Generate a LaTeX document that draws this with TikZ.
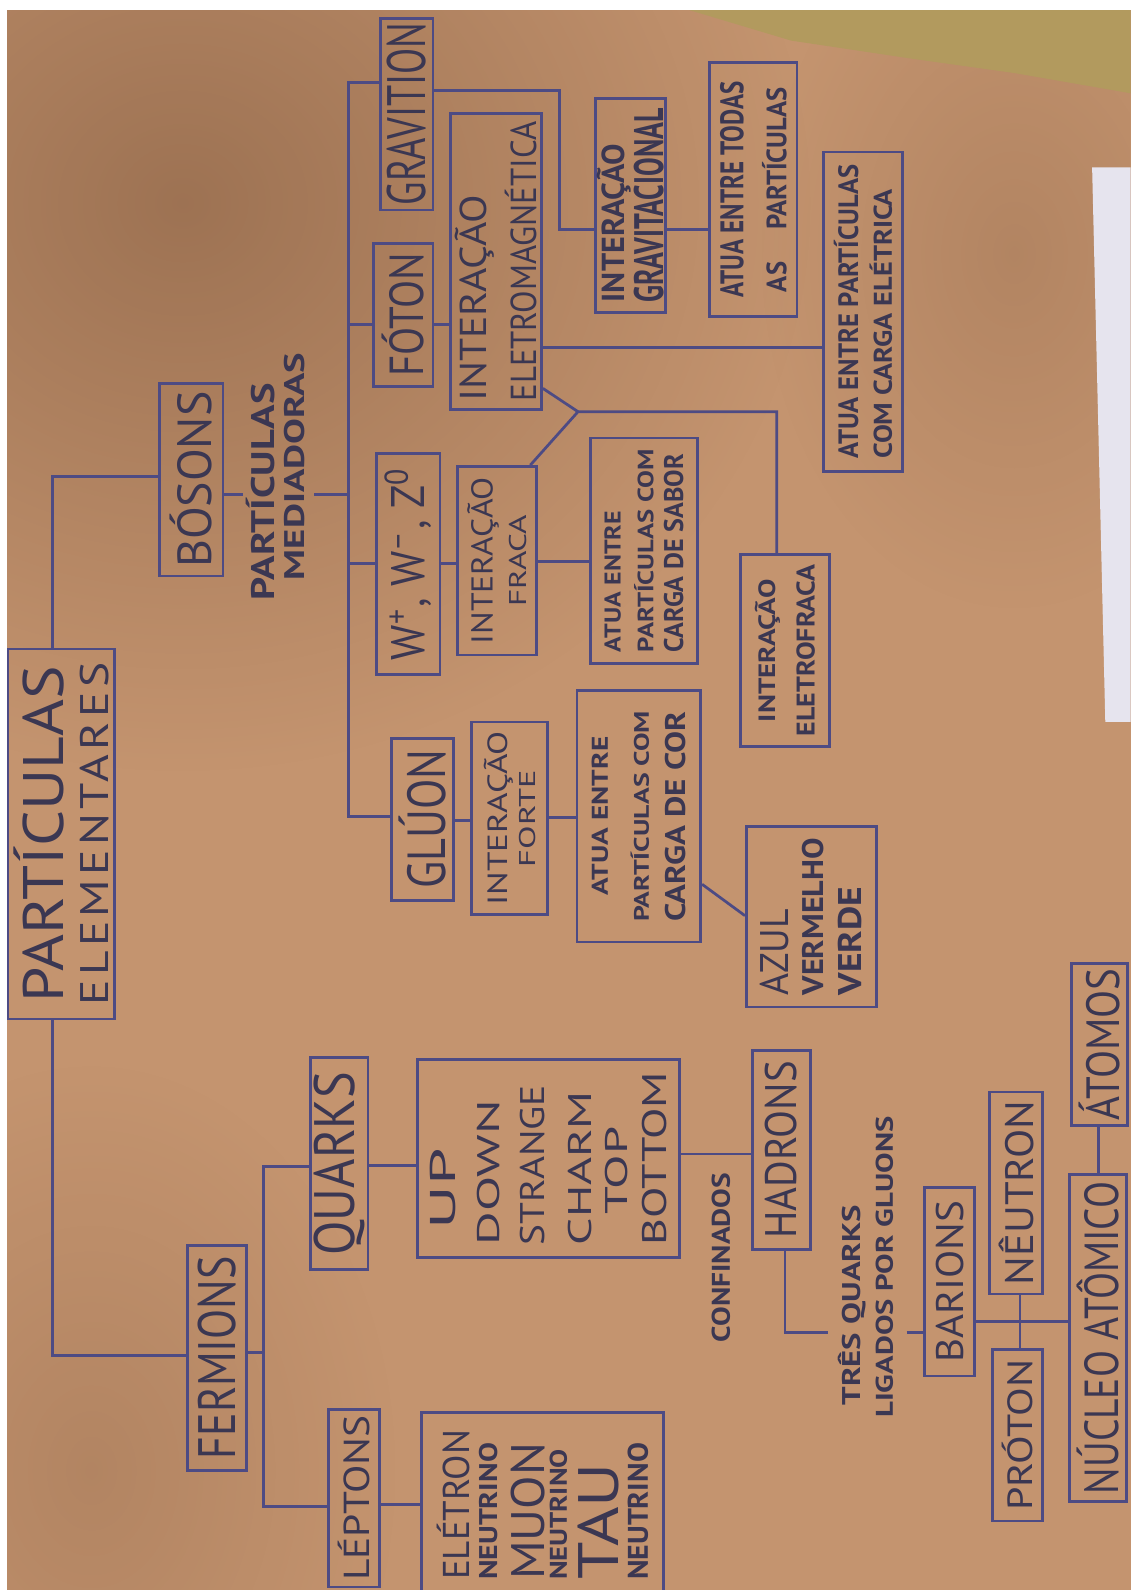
\documentclass[tikz,border=0pt]{standalone}
\usepackage{fontspec}
\setmainfont{PT Sans}
\usepackage{graphicx}
\usetikzlibrary{fadings}

\definecolor{paper}{HTML}{C4946F}
\definecolor{paperdk}{HTML}{7E573C}
\definecolor{wall}{HTML}{B29A5E}
\definecolor{sheet}{HTML}{E6E4EE}
\definecolor{ink}{HTML}{4D4B84}
\definecolor{txt}{HTML}{3B3752}

\tikzfading[name=softspot, inner color=transparent!0, outer color=transparent!100]

% one line of lettering, stretched to a given length and height
\newcommand\hwtext[3]{\resizebox{#1pt}{#2pt}{#3}}
\newcommand\bw[3]{\resizebox{#1pt}{#2pt}{\bfseries #3}}
% stacked lines, read from bottom to top
\newcommand\rotlines[1]{\rotatebox{90}{\vbox{\offinterlineskip\halign{\hfil##\hfil\cr#1\crcr}}}}
\newcommand\lgap[1]{\noalign{\vskip#1pt}}

\begin{document}
\begin{tikzpicture}[x=1pt,y=-1pt,
  bx/.style 2 args={draw=ink, line width=2.7pt, inner sep=0pt, text=txt,
                    minimum width=#1pt, minimum height=#2pt},
  ln/.style={draw=ink, line width=2.7pt},
  lbl/.style={inner sep=0pt, text=txt}]
\useasboundingbox (0,0) rectangle (1115,1568);

% backdrop: kraft paper, wall corner and a sheet of white paper
\fill[white] (0,0) rectangle (1115,1568);
\fill[paper] (7,10) rectangle (1115,1568);
\begin{scope}
  \clip (7,10) rectangle (1115,1568);
  \fill[paperdk, path fading=softspot, fill opacity=0.55] (180,200) ellipse (620 and 560);
  \fill[paperdk, path fading=softspot, fill opacity=0.25] (90,1450) ellipse (300 and 400);
  \fill[paperdk, path fading=softspot, fill opacity=0.25] (1000,250) ellipse (250 and 350);
\end{scope}
\fill[wall] (680,10) -- (1115,10) -- (1115,92) -- (1000,72) -- (900,58) -- (780,40) -- cycle;
\fill[sheet] (1077,165) -- (1115,165) -- (1115,712) -- (1090,712) -- cycle;

% ---------- root ----------
\node[bx={105}{365}] (part) at (60.5,822.5)
  {\rotlines{\hwtext{332}{49}{PARTÍCULAS}\cr\lgap{16}\hwtext{338}{28}{\addfontfeatures{LetterSpace=9}ELEMENTARES}}};

% ---------- bosons ----------
\node[bx={63}{190}] (bosons) at (188.5,473) {\rotlines{\hwtext{174}{41}{BÓSONS}}};
\node[lbl] (med) at (272,485)
  {\rotlines{\bw{214}{28}{PARTÍCULAS}\cr\lgap{9}\hspace*{50pt}\bw{224}{20}{MEDIADORAS}}};

\node[bx={52}{189}] (grav) at (401,112.5) {\rotlines{\hwtext{180}{38}{GRAVITION}}};
\node[bx={59}{141}] (foton) at (397.5,310.5) {\rotlines{\hwtext{122}{41}{FÓTON}}};
\node[bx={63}{218}] (wz) at (402.5,556)
  {\rotlines{\hwtext{190}{40}{W\textsuperscript{+}, W\textsuperscript{–}, Z\textsuperscript{0}}}};
\node[bx={61}{160}] (gluon) at (416.5,808) {\rotlines{\hwtext{137}{46}{GLÚON}}};

\node[bx={90}{292}] (intem) at (489,258)
  {\rotlines{\hwtext{204}{31}{INTERAÇÃO}\hfill\cr\lgap{10}\hwtext{276}{31}{ELETROMAGNÉTICA}\hfill}};
\node[bx={69}{211}] (intgrav) at (621.5,202.5)
  {\rotlines{\bw{156}{27}{INTERAÇÃO}\hfill\cr\lgap{3}\bw{191}{29}{GRAVITACIONAL}\hfill}};
\node[bx={86}{250}] (atuatodas) at (743,187)
  {\rotlines{\bw{213}{23}{ATUA ENTRE TODAS}\cr\lgap{18}\bw{202}{24}{AS\hspace{1.2em}PARTÍCULAS}}};
\node[bx={78}{315}] (atuaelet) at (851,307.5)
  {\rotlines{\bw{290}{24}{ATUA ENTRE PARTÍCULAS}\hfill\cr\lgap{11}\bw{266}{22}{COM CARGA ELÉTRICA}\hfill}};

\node[bx={78}{186}] (intfraca) at (490,553)
  {\rotlines{\hwtext{165}{25}{INTERAÇÃO}\cr\lgap{10}\hwtext{91}{17}{FRACA}}};
\node[bx={106}{222}] (sabor) at (635,543)
  {\rotlines{\bw{139}{16}{ATUA ENTRE}\hfill\cr\lgap{13}\bw{200}{19}{PARTÍCULAS COM}\hfill\cr\lgap{10}\bw{195}{19}{CARGA DE SABOR}\hfill}};
\node[bx={88}{189}] (eletrofraca) at (774,641.5)
  {\rotlines{\bw{141}{20}{INTERAÇÃO}\cr\lgap{16}\bw{169}{18}{ELETROFRACA}}};

\node[bx={75}{190}] (forte) at (502.5,807)
  {\rotlines{\hwtext{172}{23}{INTERAÇÃO}\cr\lgap{6}\hwtext{96}{16}{FORTE}}};
\node[bx={122}{248}] (cor) at (630,805)
  {\rotlines{\bw{157}{16}{ATUA ENTRE}\cr\lgap{22}\bw{208}{18}{PARTÍCULAS COM}\cr\lgap{16}\bw{207}{20}{CARGA DE COR}}};
\node[bx={128}{178}] (azul) at (800,904)
  {\rotlines{\hwtext{85}{28}{AZUL}\hfill\cr\lgap{13}\bw{155}{21}{VERMELHO}\hfill\cr\lgap{14}\bw{107}{23}{VERDE}\hfill}};

% ---------- fermions ----------
\node[bx={58}{222}] (ferm) at (214,1339) {\rotlines{\hwtext{200}{37}{FERMIONS}}};
\node[bx={57}{209}] (quarks) at (334.5,1147.5) {\rotlines{\hwtext{181}{40}{QUARKS}}};
\node[bx={258}{195}] (up) at (541,1142.5)
  {\rotlines{\hspace*{16pt}\hwtext{80}{25}{UP}\hfill\cr\lgap{21}\hwtext{143}{22}{DOWN}\hfill\cr
   \lgap{20}\hwtext{158}{24}{STRANGE}\hfill\cr\lgap{23}\hwtext{152}{23}{CHARM}\hfill\cr
   \lgap{13}\hspace*{30pt}\hwtext{87}{22}{TOP}\hfill\cr\lgap{15}\hwtext{171}{24}{BOTTOM}\hfill}};
\node[bx={50}{175}] (leptons) at (349,1477.5) {\rotlines{\hwtext{163}{31}{LÉPTONS}}};
\node[bx={238}{182}] (eletron) at (535,1484)
  {\rotlines{\hwtext{148}{32}{ELÉTRON}\hfill\cr\lgap{9}\bw{135}{18}{NEUTRINO}\hfill\cr
   \lgap{13}\hwtext{135}{33}{MUON}\hfill\cr\lgap{5}\bw{129}{17}{NEUTRINO}\hfill\cr
   \lgap{11}\hwtext{115}{40}{TAU}\hfill\cr\lgap{8}\bw{135}{20}{NEUTRINO}\hfill}};

\node[bx={57}{196}] (hadrons) at (770.5,1134) {\rotlines{\hwtext{175}{31}{HADRONS}}};
\node[lbl] (conf) at (711,1240) {\rotlines{\bw{167}{18}{CONFINADOS}}};
\node[lbl] (tres) at (853.5,1249.5)
  {\rotlines{\hspace*{12pt}\bw{198}{22}{TRÊS QUARKS}\hfill\cr\lgap{10}\bw{297}{17}{LIGADOS POR GLUONS}\hfill}};
\node[bx={49}{186}] (barions) at (936.5,1264) {\rotlines{\hwtext{160}{27}{BARIONS}}};
\node[bx={52}{199}] (neutron) at (1002,1176.5) {\rotlines{\hwtext{182}{34}{NÊUTRON}}};
\node[bx={49}{169}] (proton) at (1003.5,1415.5) {\rotlines{\hwtext{149}{30}{PRÓTON}}};
\node[bx={56}{323}] (nucleo) at (1083,1319.5) {\rotlines{\hwtext{308}{41}{NÚCLEO ATÔMICO}}};
\node[bx={55}{160}] (atomos) at (1084.5,1030) {\rotlines{\hwtext{150}{40}{ÁTOMOS}}};

% ---------- connectors ----------
\coordinate (pA) at (52,470);
\coordinate (pB) at (52,1337);
\draw[ln] (part.north -| pA) |- (bosons.west |- pA);
\draw[ln] (part.south -| pB) |- (ferm.west |- pB);

% boson spine
\coordinate (spT) at (344,81);
\coordinate (spB) at (344,805);
\coordinate (yFot) at (0,320);
\coordinate (yW) at (0,556);
\coordinate (mA) at (240,488);
\coordinate (mB) at (310,488);
\draw[ln] (grav.west |- spT) -- (spT) -- (spB) -- (gluon.west |- spB);
\draw[ln] (spT |- yFot) -- (foton.west |- yFot);
\draw[ln] (spT |- yW) -- (wz.west |- yW);
\draw[ln] (bosons.east |- mA) -- (mA);
\draw[ln] (mB) -- (spT |- mB);

% electromagnetic and gravitational branch
\coordinate (gA) at (552,89);
\coordinate (gB) at (552,226);
\coordinate (yE) at (0,343);
\coordinate (yJ) at (0,383);
\draw[ln] (foton.east |- yFot) -- (intem.west |- yFot);
\draw[ln] (grav.east |- gA) -- (gA) -- (gB) -- (intgrav.west |- gB);
\draw[ln] (intgrav.east |- gB) -- (atuatodas.west |- gB);
\draw[ln] (intem.east |- yE) -- (atuaelet.west |- yE);

% weak and electroweak branch
\coordinate (jn) at (570,406);
\coordinate (jr) at (766,406);
\coordinate (xF) at (523,0);
\coordinate (yS) at (0,554);
\draw[ln] (intem.east |- yJ) -- (jn);
\draw[ln] (intfraca.north -| xF) -- (jn) -- (jr) -- (eletrofraca.north -| jr);
\draw[ln] (wz.east |- yW) -- (intfraca.west |- yW);
\draw[ln] (intfraca.east |- yS) -- (sabor.west |- yS);

% strong branch
\coordinate (yG) at (0,809);
\coordinate (yC) at (0,806);
\coordinate (yC1) at (0,872);
\coordinate (yC2) at (0,903);
\draw[ln] (gluon.east |- yG) -- (forte.west |- yG);
\draw[ln] (forte.east |- yC) -- (cor.west |- yC);
\draw[ln] (cor.east |- yC1) -- (azul.west |- yC2);

% fermion branch
\coordinate (fv) at (260,1334);
\coordinate (qv) at (260,1150);
\coordinate (lv) at (260,1486);
\coordinate (yQ) at (0,1149);
\coordinate (yL) at (0,1484);
\coordinate (yH) at (0,1138);
\draw[ln] (ferm.east |- fv) -- (fv);
\draw[ln] (quarks.west |- qv) -- (qv) -- (lv) -- (leptons.west |- lv);
\draw[ln] (quarks.east |- yQ) -- (up.west |- yQ);
\draw[ln] (leptons.east |- yL) -- (eletron.west |- yL);
\draw[ln] (up.east |- yH) -- (hadrons.west |- yH);

% hadrons to nuclei and atoms
\coordinate (hk) at (774,1314);
\coordinate (hq) at (817,1314);
\coordinate (hb) at (894,1314);
\coordinate (yN) at (0,1303);
\coordinate (xNP) at (1006,0);
\coordinate (xAN) at (1083,0);
\draw[ln] (hadrons.south -| hk) -- (hk) -- (hq);
\draw[ln] (hb) -- (barions.west |- hb);
\draw[ln] (barions.east |- yN) -- (nucleo.west |- yN);
\draw[ln] (neutron.south -| xNP) -- (proton.north -| xNP);
\draw[ln] (atomos.south -| xAN) -- (nucleo.north -| xAN);
\end{tikzpicture}
\end{document}
